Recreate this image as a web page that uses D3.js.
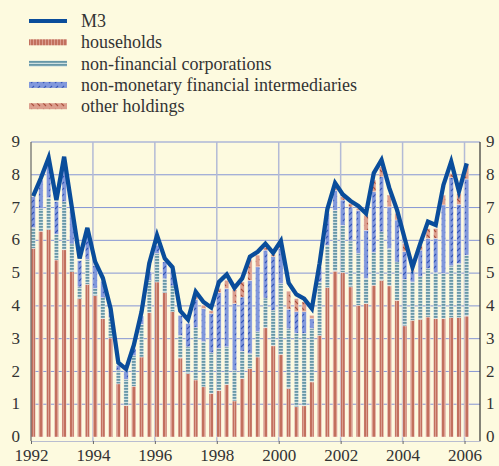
<!DOCTYPE html>
<html lang="en">
<head>
<meta charset="UTF-8">
<title>M3 by holding sector</title>
<script src="https://d3js.org/d3.v7.min.js"></script>
<style>
  body { margin: 0; background: #fdfadf; }
  svg { display: block; }
  text { font-family: "Liberation Serif", "Times New Roman", serif; fill: #333; }
</style>
</head>
<body>
<svg width="499" height="466"></svg>
<script>
// quarterly observations, 1992 Q1 to 2006 Q1
const quarters = [];
for (let yr = 1992; yr <= 2006; yr++) {
    for (let q = 1; q <= 4; q++) {
        if (yr === 2006 && q > 1) break;
        quarters.push(yr + "Q" + q);
    }
}

const m3 = [7.35, 7.90, 8.52, 7.23, 8.55, 7.00, 5.45, 6.38, 5.35, 4.85, 3.92, 2.27,
    2.07, 2.80, 3.82, 5.30, 6.15, 5.45, 5.18, 3.85, 3.58, 4.43, 4.12, 3.95,
    4.73, 4.96, 4.55, 4.84, 5.50, 5.65, 5.90, 5.62, 5.98, 4.70, 4.35, 4.22,
    3.92, 5.30, 6.95, 7.75, 7.40, 7.20, 7.05, 6.82, 8.05, 8.45, 7.60, 6.93,
    6.05, 5.18, 5.90, 6.57, 6.47, 7.69, 8.40, 7.49, 8.35];

const households = [5.76, 6.28, 6.33, 5.40, 5.71, 5.04, 4.22, 4.66, 4.31, 3.61, 3.02, 1.62,
    0.96, 1.55, 2.44, 3.79, 4.73, 4.40, 3.82, 2.41, 1.93, 1.74, 1.53, 1.33,
    1.42, 1.60, 1.10, 1.78, 2.09, 2.44, 3.33, 2.78, 2.52, 1.48, 0.92, 0.95,
    1.68, 3.10, 4.56, 5.06, 5.02, 4.58, 4.02, 4.07, 4.63, 4.78, 4.61, 4.17,
    3.39, 3.56, 3.59, 3.66, 3.61, 3.61, 3.64, 3.64, 3.69];

const nonFinancialCorps = [0.63, 0.69, 0.97, 0.79, 1.47, 0.85, 0.36, 0.75, 0.22, 0.64, 0.64, 0.42,
    0.80, 0.93, 1.00, 0.99, 0.87, 0.43, 0.79, 0.69, 0.82, 1.60, 1.38, 1.24,
    1.28, 1.15, 0.93, 0.84, 0.45, 0.77, 0.91, 1.09, 2.16, 1.82, 2.25, 2.21,
    1.63, 1.63, 1.29, 1.86, 1.44, 1.40, 1.58, 0.77, 1.00, 1.48, 1.14, 1.17,
    1.42, 1.17, 1.30, 1.48, 1.41, 1.38, 1.58, 1.65, 1.86];

const nonMonetaryFin = [0.94, 0.87, 1.15, 0.99, 1.20, 1.05, 0.80, 0.80, 0.70, 0.50, 0.20, 0.15,
    0.25, 0.22, 0.25, 0.26, 0.25, 0.51, 0.48, 0.61, 0.71, 0.85, 1.01, 1.20,
    1.70, 1.78, 2.04, 1.65, 2.24, 1.98, 1.46, 1.63, 1.07, 0.60, 0.65, 0.66,
    0.30, 0.45, 0.97, 0.60, 0.77, 1.04, 1.32, 1.47, 1.85, 1.68, 1.27, 1.28,
    0.84, 0.31, 0.81, 0.92, 1.04, 2.09, 2.69, 1.81, 2.32];

const otherHoldings = [0, 0, 0, 0, 0, 0, 0, 0, 0, 0, 0, 0,
    0, 0, 0, 0, 0, 0, 0, 0, 0, 0.10, 0.10, 0.08,
    0.13, 0.25, 0.42, 0.46, 0.62, 0.36, 0.08, 0.07, 0.10, 0.55, 0.40, 0.30,
    0.10, 0, 0, 0.10, 0.10, 0.10, 0.06, 0.46, 0.36, 0.31, 0.36, 0.20,
    0.25, 0.04, 0.15, 0.30, 0.30, 0.30, 0.13, 0.33, 0.45];

const yTicks = [0, 1, 2, 3, 4, 5, 6, 7, 8, 9];
const xTicks = [1992, 1994, 1996, 1998, 2000, 2002, 2004, 2006];

const seriesKeys = ["households", "nfc", "nmfi", "other"];
const legendLabels = ["M3", "households", "non-financial corporations",
    "non-monetary financial intermediaries", "other holdings"];

const rows = quarters.map((q, i) => ({
    period: q,
    t: 1992 + i / 4,
    households: households[i],
    nfc: nonFinancialCorps[i],
    nmfi: nonMonetaryFin[i],
    other: otherHoldings[i],
    m3: m3[i]
}));

const svg = d3.select("svg");

// plot frame
const plotLeft = 31, plotRight = 480, plotTop = 142, plotBottom = 437, axisY = 441;

const x = d3.scaleLinear().domain([1992, 2006.5]).range([plotLeft, plotRight]);
const y = d3.scaleLinear().domain([0, 9]).range([plotBottom, plotTop]);
const qStep = x(1992.25) - x(1992);
const barW = qStep * 0.56;

// patterns
const defs = svg.append("defs");

const pHouse = defs.append("pattern").attr("id", "pHouse")
    .attr("patternUnits", "userSpaceOnUse").attr("width", 3).attr("height", 3);
pHouse.append("rect").attr("width", 3).attr("height", 3).attr("fill", "#e2a99b");
pHouse.append("rect").attr("x", 0.8).attr("width", 2.2).attr("height", 3).attr("fill", "#c2705e");

const pNfc = defs.append("pattern").attr("id", "pNfc")
    .attr("patternUnits", "userSpaceOnUse").attr("width", 3).attr("height", 3);
pNfc.append("rect").attr("width", 3).attr("height", 3).attr("fill", "#cfe0e0");
pNfc.append("rect").attr("y", 1).attr("width", 3).attr("height", 1.8).attr("fill", "#6797a7");

const pNmfi = defs.append("pattern").attr("id", "pNmfi")
    .attr("patternUnits", "userSpaceOnUse").attr("width", 6).attr("height", 6);
pNmfi.append("rect").attr("width", 6).attr("height", 6).attr("fill", "#8198dc");
pNmfi.append("line").attr("x1", 1).attr("y1", 5).attr("x2", 4).attr("y2", 2)
    .attr("stroke", "#3556b8").attr("stroke-width", 1.1);

const pOther = defs.append("pattern").attr("id", "pOther")
    .attr("patternUnits", "userSpaceOnUse").attr("width", 6).attr("height", 6);
pOther.append("rect").attr("width", 6).attr("height", 6).attr("fill", "#dc9f8e");
pOther.append("line").attr("x1", 1).attr("y1", 1).attr("x2", 4).attr("y2", 4)
    .attr("stroke", "#ac4f3d").attr("stroke-width", 1.1);

const fills = { households: "url(#pHouse)", nfc: "url(#pNfc)", nmfi: "url(#pNmfi)", other: "url(#pOther)" };

// horizontal gridlines
svg.append("g").selectAll("line")
    .data(yTicks.filter(d => d > 0))
    .join("line")
    .attr("x1", plotLeft).attr("x2", plotRight)
    .attr("y1", d => y(d)).attr("y2", d => y(d))
    .attr("stroke", "#8595d4").attr("stroke-width", 1);

// vertical gridlines every two years
svg.append("g").selectAll("line")
    .data(xTicks.slice(1))
    .join("line")
    .attr("x1", d => x(d)).attr("x2", d => x(d))
    .attr("y1", plotTop).attr("y2", axisY)
    .attr("stroke", "#b3bad6").attr("stroke-width", 1.5);

// stacked bars
const stacked = d3.stack().keys(seriesKeys)(rows);

svg.append("g").selectAll("g")
    .data(stacked)
    .join("g")
    .attr("fill", d => fills[d.key])
    .selectAll("rect")
    .data(d => d)
    .join("rect")
    .attr("x", d => x(d.data.t))
    .attr("y", d => y(d[1]))
    .attr("width", barW)
    .attr("height", d => Math.max(0, y(d[0]) - y(d[1])))
    .attr("stroke", "#fbf2ee")
    .attr("stroke-width", 0.4);

// M3 line
const line = d3.line()
    .x(d => x(d.t) + barW / 2)
    .y(d => y(d.m3));

svg.append("path")
    .datum(rows)
    .attr("fill", "none")
    .attr("stroke", "#0a4d9b")
    .attr("stroke-width", 4.3)
    .attr("stroke-linejoin", "miter")
    .attr("d", line);

// axes
const xAxis = d3.axisBottom(x).tickValues(xTicks).tickFormat(d3.format("d"))
    .tickSize(3).tickSizeOuter(0).tickPadding(5);
const gx = svg.append("g").attr("transform", `translate(0,${axisY})`).call(xAxis);
gx.select(".domain").attr("stroke", "#b9bdd0");
gx.selectAll(".tick line").attr("stroke", "#666");
gx.selectAll(".tick text").style("font-size", "17px").attr("fill", "#333")
    .style("font-family", "'Liberation Serif', serif");

svg.append("line").attr("x1", plotLeft).attr("x2", plotLeft).attr("y1", plotTop).attr("y2", axisY)
    .attr("stroke", "#666").attr("stroke-width", 1.2);
svg.append("line").attr("x1", plotRight).attr("x2", plotRight).attr("y1", plotTop).attr("y2", axisY)
    .attr("stroke", "#333").attr("stroke-width", 1.2);

svg.append("g").selectAll("text")
    .data(yTicks)
    .join("text")
    .attr("x", 20).attr("y", d => y(d))
    .attr("dy", "0.3em")
    .attr("text-anchor", "end")
    .style("font-size", "17px")
    .text(d => d);

svg.append("g").selectAll("text")
    .data(yTicks)
    .join("text")
    .attr("x", 486).attr("y", d => y(d))
    .attr("dy", "0.3em")
    .style("font-size", "17px")
    .text(d => d);

// legend
const legend = svg.append("g");
const legendFills = [null, fills.households, fills.nfc, fills.nmfi, fills.other];
legendLabels.forEach((label, i) => {
    const cy = 21 + i * 21.3;
    if (i === 0) {
        legend.append("line").attr("x1", 29).attr("x2", 67).attr("y1", cy).attr("y2", cy)
            .attr("stroke", "#0a4d9b").attr("stroke-width", 4);
    } else {
        legend.append("rect").attr("x", 29).attr("y", cy - 3).attr("width", 38).attr("height", 6)
            .attr("fill", legendFills[i]);
    }
    legend.append("text").attr("x", 81).attr("y", cy).attr("dy", "0.33em")
        .style("font-size", "18px").text(label);
});
</script>
</body>
</html>
